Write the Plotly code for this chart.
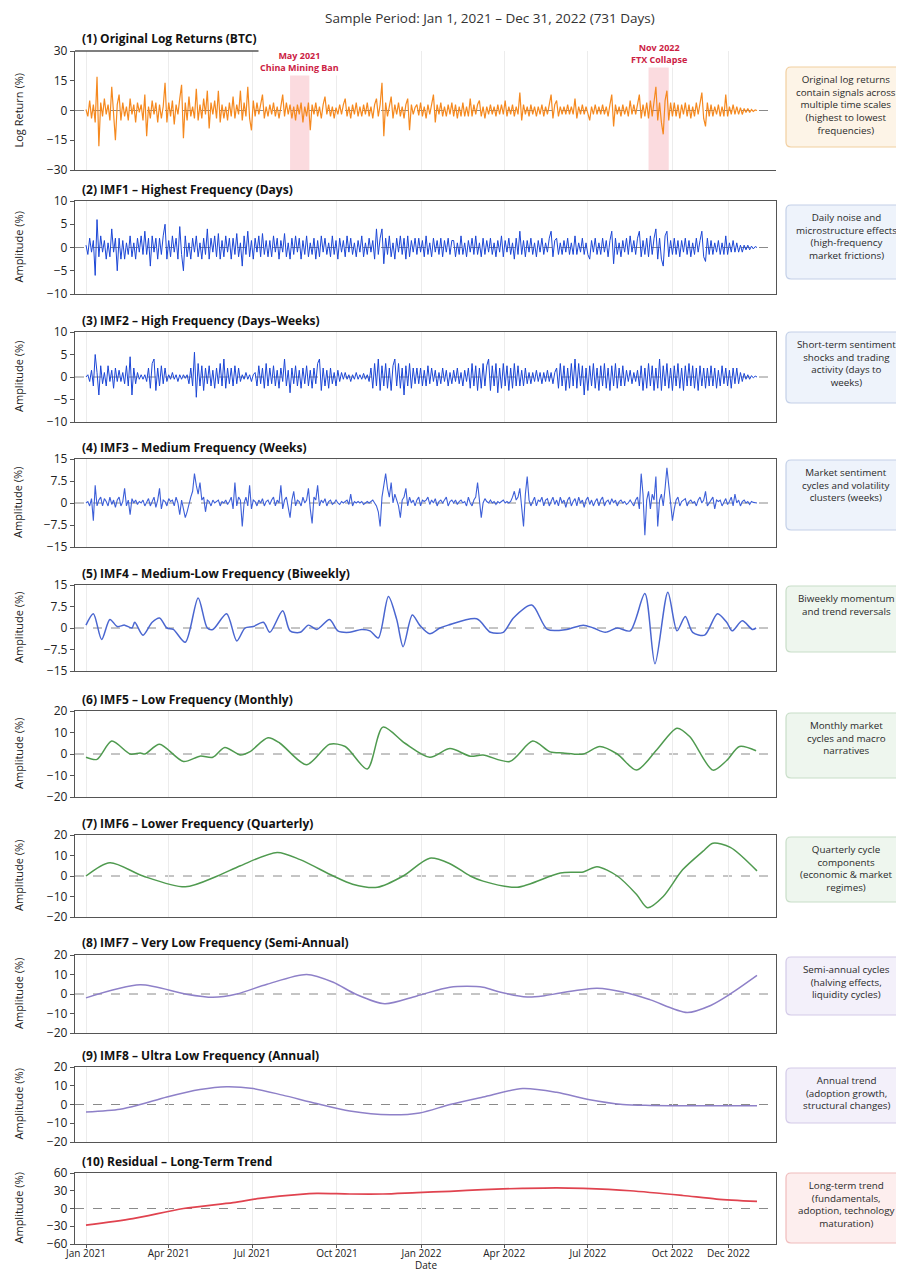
import plotly.graph_objects as go
import pandas as pd

PAGE_OFF = 8                      # browser body margin
W, H = 904 - PAGE_OFF, 1273 - PAGE_OFF
START = pd.Timestamp("2021-01-01")

# ---------------- data ----------------
# 2-day sampled high-frequency series (366 samples, Jan 1 2021 .. Jan 1 2023)
log_returns = (
    [0.5, -3, 5, -4, 3, -6, 17, -18, 4, -3, 6, -2, 3, -5, 12, -4, -15, 3, 8, -5]
    + [4, -3, 2, -5, 6, -2, 3, -6, 4, -1, 3, -5, 8, -13, 2, -4, 5, -2, 4, -6]
    + [3, -4, 2, 14, -6, 4, -3, 5, -7, 3, -2, 6, 13, -14, 4, -5, 7, -3, 2, -4]
    + [11, -5, 3, -4, 6, -2, 10, -9, 4, -2, 5, -4, 10, -6, 3, -4, 2, -5, 4, -3]
    + [7, -4, 3, -2, 10, -5, 4, -3, 12, -4, -10, 5, -3, 4, -2, 3, 8, -4, 2, -3]
    + [3, -2, 4, -3, 2, -4, 3, 8, -3, 4, -2, 3, -4, 2, -5, 3, -2, 4, -6, 2]
    + [-3, 4, -10, 3, -2, 4, -3, 2, -4, 3, 7, -2, 3, -3, 2, -4, 1.5, -2, 3, -2]
    + [3, 6, -3, 2, -4, 3, -2, 4, -3, 2, -3, 3, -2, 4, -3, 2, -4, 3, 6, -3]
    + [3, 14, -13, 4, -3, 2, 7, -4, 3, -2, 4, -3, 2, -4, 3, 6, -10, 3, -2, 1.5]
    + [3, -2.5, 4, -3, 2, -4, 3, -2, 4, 8, -6, 3, -2, 4, -3, 2, -3, 3, -2, 4]
    + [-3, 3, -4, 2, -3, 4, -3, 2, -3, 6, -3, 3, -2, 3, 5, -3, 2, -4, 2, -2]
    + [3, -2, 2, -3, 3, -2, 3, -2, 5, -3, 2, -2, 3, -3, 2, -2, 9, -5, 3, -2]
    + [2, -3, 3, -2, 2, -3, 2, -2, 3, -3, 2, -2, 3, 8, -4, 3, 5, -3, 2, -2]
    + [2, -2, 3, -2, 2, -2, 6, -4, 2, -2, 3, -2, 2, -2, -5, 2, -2, 3, -2, 2]
    + [-2, 3, -2, 2, -3, 3, 8, -8, 3, -2, 2, -3, 3, -2, 2, -3, 5, -2, 3, -2]
    + [3, 8, -4, 3, -3, 4, -4, 5, -3, 4, 12, -5, 4, -6, -12, 5, 10, -5, 4, -3]
    + [4, -3, 3, -4, 3, -2, 4, -3, 3, -4, 2, -3, 4, -2, 3, 9, -4, -8, 4, -3]
    + [3, -3, 2, -2, 3, -3, 2, -3, 8, -3, 2, -2, 3, -2, 2, -2, 1.5, -2, 1, -1]
    + [1, -1, 0.5, -0.5, 0.3, 0]
)

imf1 = (
    [0.5, -1.5, 2, -1, 1.5, -6, 6, -2, 2.5, -1, 1.5, -2.5, 1, -2, 4, -1, 2, -5, 2, -2.5]
    + [1.5, -2.5, 1, -1.5, 2.5, -2, 1, -2.5, 2, -1, 2.5, -1.5, 3.5, -1.5, 2, -4, 2.5, -1, 2, -2.5]
    + [2, -1.5, 2.5, 5, -2.5, 1.5, -2, 2.5, -1, 2, -2.5, 4.5, -1.5, -5, 2.5, -2, 1, -2.5, 2, -1]
    + [2.5, -2, 1, -2.5, 2, -1.5, 4, -2.5, 2, -1, 2.5, -2, 3, -2.5, 1.5, -2, 2.5, -1, 2, -2.5]
    + [2, -1.5, 3, -2, 1, -4, 2.5, -1.5, 3.5, -2, 1.5, -2.5, 2, -1, 2.5, -2, 3, -1.5, 1.5, -2]
    + [1.5, -2, 2.5, -1, 2, -2.5, 1.5, -1, 3, -2, 1, -2.5, 2, -1.5, 2.5, -1, 2, -2.5, 1.5, -1.5]
    + [2.5, -2, 1, -1.5, 2, -2.5, 1.5, -2, 2.5, -1, 2, -1.5, 1, -2, 2.5, -1.5, 1.5, -2.5, 2, -1]
    + [1.5, -2, 2.5, -1, 2, -1.5, 1, -2, 1.5, -1, 2.5, -2, 1, -1.5, 2, -1, 1.5, -2.5, 4, -1.5]
    + [2, 4, -3.5, 2, -1.5, 2.5, -2, 1, -2.5, 2, -1, 2.5, -1.5, 2, -2.5, 2.5, -2, 1.5, -1, 2]
    + [-1.5, 2, -1, 1.5, -2, 2.5, -1.5, 1, -2, 2, -1, 1.5, -1.5, 2, -2, 1.5, -1, 2, -1.5, 1.5]
    + [1.5, -2, 1, -1.5, 2.5, -1.5, 1, -2, 1.5, -1, 2, -1.5, 2.5, -1.5, 1, -2, 2, -1.5, 1.5, -1]
    + [2, -1.5, 1, -2, 1.5, -1, 2.5, -2, 1.5, -1, 2, -1.5, 1, -2.5, 2, -1.5, 3.5, -1.5, 1.5, -2]
    + [1.5, -1, 2, -1.5, 1, -2, 1.5, -1, 2, -1.5, 1, -1, 2, 3.5, -2, 1.5, 2, -1.5, 1, -1.5]
    + [1.5, -1, 2, -1.5, 1, -1.5, 2.5, -1.5, 1, -1, 2, -1.5, 1, -1.5, -2.5, 1.5, -1, 2, -1.5, 1]
    + [-1.5, 2, -1, 1.5, -2, 1.5, 3.5, -3.5, 2, -1.5, 1, -2, 1.5, -1, 2, -1.5, 2.5, -1, 1.5, -1.5]
    + [2, 3.5, -2, 1.5, -1.5, 2, -2, 2.5, -1.5, 2, 4, -2.5, 2, -2.5, -4, 2.5, 3.5, -2, 1.5, -1.5]
    + [2, -1.5, 1.5, -2, 1.5, -1, 2, -1.5, 1.5, -2, 1, -1.5, 2, -1, 1.5, 3.5, -2, -3, 2, -1.5]
    + [1.5, -1.5, 1, -1, 1.5, -1.5, 1, -1.5, 2.5, -1.5, 1, -1, 1.5, -1, 1, -1, 0.5, -1, 0.5, -0.5]
    + [0.5, -0.5, 0.3, -0.3, 0.2, 0]
)

imf2 = (
    [0, 0.5, -1, 1.5, -2, 5, 1, -4, 2.5, -1.5, 1, -2, 2.5, -1, 1.5, -2.5, 2, -1, 1.5, -1]
    + [1, -1.5, 2.5, -2, 4.5, -4, 2, -1.5, 1, -0.5, 0.5, -0.5, 0.5, -1, 2, -2.5, 3, 4, -3, 2]
    + [-2, 2.5, -1.5, 2, -1, 0.5, -0.5, 1, -0.5, 0.5, -1, 0.5, -0.5, 0.5, -0.3, 0.5, -1.5, 2, -2, 5.5]
    + [-4.5, 3, -2, 2.5, -3, 2, -1.5, 2.5, -2, 1.5, -2.5, 2, -1.5, 3, -2, 4, -2.5, 2, -1.5, 2]
    + [-2, 2.5, -1.5, 2, -1, 0.5, -0.5, 1, -0.5, 0.5, -1, 0.5, 1, -2, 2.5, -1.5, 2, -2.5, 3, -2]
    + [2, -1.5, 2.5, -2, 1.5, -2.5, 2, -1, 4, -2, 1.5, -3.5, 2, -1.5, 2.5, -2, 1.5, -2.5, 2, -1.5]
    + [2.5, -2, 1.5, -2.5, 2, -1.5, 3, 4, -3, 2, -2, 1.5, -2.5, 2, -1.5, 1, -2, 1.5, -1, 1]
    + [-0.5, 1, -0.5, 0.5, -1, 0.5, -0.5, 1, -0.5, 0.5, -0.5, 0.8, -0.5, 0.5, -1, 2, -2.5, 3, -2, 4]
    + [-3, 2.5, -2, 3, -2.5, 2, -3, 2.5, 4, -2, 3, -2.5, 2, -4, 2.5, -2, 3, -2.5, 2, -1.5]
    + [2, -1.5, 2, -2, 1.5, -2, 2.5, -1.5, 2, -1, 1.5, -2, 1, -1.5, 2, -1, 1.5, -2, 1, -1.5]
    + [1.5, -1, 2, -1.5, 1, -2, 1.5, -1, 2, -2.5, 3, -2, 2.5, -3, 2, -2.5, 3, -2, 2.5, 4]
    + [-3, 2.5, -2, 3, -3.5, 2, -2.5, 3, -2, 2.5, -3, 2, -2.5, 3, -2, 2.5, -2, 1.5, -2, 2]
    + [-1.5, 1, -1.5, 1, -1, 1.5, -1, 1, -1.5, 1, -1, 1.5, -1, 1, -1.5, 1, 2, -2.5, 3, -2]
    + [2.5, -3, 2, -2.5, 3, -2, 4, -2.5, 3, -2, 2.5, -4, 2, -3, 2.5, -2, 3, -2.5, 2, -3]
    + [2.5, -2, 3, -2.5, 2, -3, 2.5, -2, 3, -2.5, 2, -2, 2.5, -2, 1.5, -1, 1.5, -1.5, 1, -1]
    + [1.5, -2, 2.5, -3, 2, -2.5, 3, -2, 2.5, -3, 2, -2.5, 4, -3, 2.5, -2, 3, -2.5, 2, -3]
    + [2.5, -2, 3, -2.5, 2, -3, 2.5, -2, 3, -2, 2.5, -2.5, 2, -3, 2.5, -2, 2, -2.5, 2, -2]
    + [2.5, -2, 2, -2.5, 1.5, -2, 2.5, -1.5, 2, -2, 1.5, -2.5, 2, -1.5, 2, -1.5, 1, -1, 0.8, -0.5]
    + [0.5, -0.5, 0.3, -0.2, 0.2, 0]
)

imf3 = (
    [0, 0.5, -1, 1.5, -6, 6, -1, 1, 2, -1, 1.5, 0.5, -1, 2, -0.5, 1, -1.5, 1, 2, -1]
    + [0.5, 5, -1, 1, -4, 1.5, 0, 1, -0.5, 0.5, 0, 1, -1, 0.5, 1.5, -1, 0.5, 2, -1.5, 1]
    + [5, -2, 1, 0.5, -1, 1.5, 0.5, 1, -1, 2, 0, -4, 1, -2, -5, -3, 0, 2, 4, 10]
    + [6, 3, 7, 1, 2, -3, 1, 0.5, -1, 1, 0, 0.5, 1, -1, 0.5, 0, 1, -0.5, 0.5, 2]
    + [-2, 7, -1, 2, 1, -8, 0, 2, -1, 6, -2, 1, 0.5, -1, 1, 0, 1.5, -1, 0.5, 1]
    + [-0.5, 1, 2, -1, 1, 0, 6, -2, 1, 2, -1, -5, 1, 4, -1, 1, 0.5, -1, 2, 0]
    + [1, 5, -2, -7, 2, 1, 6, -1, 1, 0, 1.5, -1, 0.5, 1, -0.5, 0, 1, 0, -0.5, 0.5]
    + [0, 0.5, 1, -0.5, 3, -1, 0.5, 0, 0.5, 0, 0.5, -0.5, 0, 0.5, 0, 0.5, 1, 0, -1, -3]
    + [-8, 2, 6, 10, 5, 2, 7, 0, 3, 1, -1, -5, 1, 2, 5, -1, 2, 0, 1, -1]
    + [1, 2, -1, 1, 0.5, 1, 2, -0.5, 1, 0, 1.5, -1, 0.5, 1, 0, 1, 2, -1, 0.5, 1]
    + [0, 1, -0.5, 0.5, 1, 0, 0.5, -1, 2, 0, -1, 1, 2, 7, 1, -5, 0, 1.5, 0.5, 0]
    + [1, 0, 0.5, -0.5, 0.5, 0, 0.5, 1, 0, 0.5, 0, 0.5, 2, 4, 1, 2, 5, -1, -8, 3]
    + [9, 1, -1, 0.5, 2, -1, 1, 0.5, 2, -1, 1, 1.5, -1, 0.5, 2, -0.5, 1, -1, 2, 0]
    + [1, -1.5, 1, 2, -1, 0.5, 1.5, -1, 2, 0, 1, -1.5, 1, 2, -0.5, 1, -1, 0.5, 1.5, -1]
    + [1, 2, -1, 0.5, 1, -0.5, 1.5, 0, 1, -1, 0.5, 1, 0, 0.5, -0.5, 0, 1, 0, -1, 1]
    + [2, -2, 10, 3, -11, 1, 4, -2, 3, 1, 9, -8, 1, 3, -1, 5, 12, 6, 1, -6]
    + [-2, 1, 2, -1, 0.5, 1, 1.5, -1, 0.5, 1, 0, 0.5, -1, 1, 2, 0, 1, 4, -1, 0]
    + [1, 2, -2, 1, 0.5, 1, -1, 0.5, 1.5, -0.5, 0.5, 2, -1, 3, 0, 1, -1, 0.5, 1, 0]
    + [0.5, -0.5, 0.5, 0.2, 0, 0]
)

# smooth components: day offsets from Jan 1 2021 and values read at turning points
imf4_days = [0, 8, 17, 26, 34, 42, 50, 53, 62, 72, 80, 88, 95, 108, 122, 132, 138, 153, 164,
             173, 182, 193, 200, 214, 222, 233, 242, 251, 265, 274, 287, 300, 309, 318, 329,
             338, 345, 355, 363, 374, 385, 394, 425, 440, 454, 465, 485, 502, 523, 541, 552,
             565, 578, 592, 608, 619, 633, 643, 652, 660, 673, 687, 697, 703, 714, 725, 729]
imf4_vals = [1, 5, -4, 3, 0.5, 1, 0, 2, -2.5, 2, 3.5, 0, -0.5, -5, 10.5, 0, -0.5, 5, -4.5,
             0, 0.5, 2, -1.5, 6, -1, -1.5, 1, -0.5, 3, -1, -1.5, -0.5, -1, -3.5, 11,
             3, -6.5, 4.5, 1, -2, 0, 1, 3.2, -1.5, -1.5, 3.5, 8, -0.5, -0.5, 1, 0,
             -1.5, 0, -1, 12, -12.5, 12.5, -1, 4, -1.5, -2.5, 5, 2, -1, 2.5, -0.5, 0]

imf5_days = [0, 12, 28, 48, 59, 64, 80, 106, 124, 138, 151, 168, 178, 198, 211, 240, 265,
             282, 306, 323, 347, 374, 396, 418, 432, 461, 486, 505, 519, 541, 559, 578, 599,
             621, 643, 657, 682, 697, 711, 729]
imf5_vals = [-1.5, -2.5, 6, 0, 0.5, 0, 4.5, -3.5, -1, -1.5, 3, -0.5, 1, 7.5, 5, -5, 4.5,
             3.5, -7, 12.5, 5, -1.5, 2.5, -1, -0.5, -3.5, 6, 1, 0.5, 0, 3.5, 0, -7.5,
             2, 12, 8, -7.5, -3, 3.5, 1.5]

imf6_days = [0, 26, 62, 108, 143, 168, 208, 233, 269, 290, 317, 345, 374, 396, 418, 432,
             469, 516, 541, 556, 578, 599, 611, 628, 649, 671, 682, 701, 730]
imf6_vals = [0, 6.5, 0, -5.3, 0, 5, 11.5, 8, 0, -4, -5.5, 0, 8.7, 6, 0, -2.5,
             -5.5, 1.5, 2, 4.5, 0, -9, -15.5, -10, 3, 12, 16, 14, 2.5]

imf7_days = [0, 59, 108, 138, 164, 197, 240, 269, 293, 325, 360, 396, 432, 450, 480, 497,
             516, 556, 589, 614, 654, 679, 701, 730]
imf7_vals = [-2, 4.7, 0, -1.7, 0, 5, 10, 6, 0, -5, -1, 3.5, 3.5, 1, -1.5, -1,
             0.5, 3, 0.5, -3, -9.5, -6, 0, 9.5]

imf8_days = [0, 37, 59, 88, 124, 153, 182, 214, 251, 287, 331, 363, 396, 432, 475, 512,
             548, 584, 614, 649, 730]
imf8_vals = [-4, -2.5, 0, 4, 8, 9.5, 8.5, 5, 0.5, -3.5, -5.5, -4.5, 0, 4, 8.5, 6.5,
             2.5, 0, -0.5, -0.7, -0.7]

resid_days = [0, 51, 106, 160, 189, 233, 251, 287, 323, 360, 396, 432, 475, 512, 541,
              592, 649, 686, 730]
resid_vals = [-28, -17, 0, 10, 17, 24, 25.5, 24.5, 24.5, 27, 29, 32, 34, 35, 34,
              30, 22, 16, 12]

# event windows (as positioned in the picture) and axis ticks
event_labels = ["May 2021<br>China Mining Ban", "Nov 2022<br>FTX Collapse"]
event_start = ["2021-08-11", "2022-09-05"]
event_end = ["2021-09-01", "2022-09-27"]

tick_dates = ["2021-01-01", "2021-04-01", "2021-07-01", "2021-10-01", "2022-01-01",
              "2022-04-01", "2022-07-01", "2022-10-01", "2022-12-01"]
tick_text = ["Jan 2021", "Apr 2021", "Jul 2021", "Oct 2021", "Jan 2022",
             "Apr 2022", "Jul 2022", "Oct 2022", "Dec 2022"]

panel_titles = ["(1) Original Log Returns (BTC)", "(2) IMF1 – Highest Frequency (Days)",
                "(3) IMF2 – High Frequency (Days–Weeks)", "(4) IMF3 – Medium Frequency (Weeks)",
                "(5) IMF4 – Medium-Low Frequency (Biweekly)", "(6) IMF5 – Low Frequency (Monthly)",
                "(7) IMF6 – Lower Frequency (Quarterly)", "(8) IMF7 – Very Low Frequency (Semi-Annual)",
                "(9) IMF8 – Ultra Low Frequency (Annual)", "(10) Residual – Long-Term Trend"]
notes = ["Original log returns<br>contain signals across<br>multiple time scales<br>(highest to lowest<br>frequencies)",
         "Daily noise and<br>microstructure effects<br>(high-frequency<br>market frictions)",
         "Short-term sentiment<br>shocks and trading<br>activity (days to<br>weeks)",
         "Market sentiment<br>cycles and volatility<br>clusters (weeks)",
         "Biweekly momentum<br>and trend reversals",
         "Monthly market<br>cycles and macro<br>narratives",
         "Quarterly cycle<br>components<br>(economic &amp; market<br>regimes)",
         "Semi-annual cycles<br>(halving effects,<br>liquidity cycles)",
         "Annual trend<br>(adoption growth,<br>structural changes)",
         "Long-term trend<br>(fundamentals,<br>adoption, technology<br>maturation)"]

# ---------------- layout geometry (screen pixels) ----------------
panel_px = [(51, 170), (201, 294), (332, 422), (459, 547), (585, 671),
            (711, 797), (835, 917), (955, 1033), (1067, 1142), (1173, 1244)]
box_px = [(67, 147), (205, 279), (332, 403), (460, 530), (586, 652),
          (713, 778), (837, 902), (957, 1015), (1068, 1123), (1173, 1243)]
y_ranges = [30, 10, 10, 15, 15, 20, 20, 20, 20, 60]
y_ticks = [[-30, -15, 0, 15, 30], [-10, -5, 0, 5, 10], [-10, -5, 0, 5, 10],
           [-15, -7.5, 0, 7.5, 15], [-15, -7.5, 0, 7.5, 15], [-20, -10, 0, 10, 20],
           [-20, -10, 0, 10, 20], [-20, -10, 0, 10, 20], [-20, -10, 0, 10, 20],
           [-60, -30, 0, 30, 60]]
line_colors = ["#f5891f", "#1b46d6", "#1b46d6", "#3d5fd8", "#4a66d0", "#4f9a4f",
               "#4f9a4f", "#8e80c8", "#8e80c8", "#e0434f"]
line_widths = [1.2, 1.0, 1.0, 1.1, 1.5, 1.5, 1.5, 1.5, 1.5, 1.7]
box_fill = ["#fdf4e7", "#eef3fb", "#eef3fb", "#eef3fb", "#eef6ee", "#eef6ee", "#eef6ee",
            "#f3f0fa", "#f3f0fa", "#fdeeee"]
box_line = ["#f2cfa0", "#c3d0e8", "#c3d0e8", "#c3d0e8", "#c8dec8", "#c8dec8", "#c8dec8",
            "#d3cae8", "#d3cae8", "#f0bcbc"]

FONT = "Open Sans, Noto Sans, sans-serif"
X0, X1 = 75, 776


def px_x(p):
    return (p - PAGE_OFF) / W


def px_y(p):
    return 1 - (p - PAGE_OFF) / H


def day_dates(days):
    return [START + pd.Timedelta(days=d) for d in days]


grid2 = day_dates(range(0, 731, 2))
series = [
    (grid2, log_returns, "linear"),
    (grid2, imf1, "linear"),
    (grid2, imf2, "linear"),
    (grid2, imf3, "linear"),
    (day_dates(imf4_days), imf4_vals, "spline"),
    (day_dates(imf5_days), imf5_vals, "spline"),
    (day_dates(imf6_days), imf6_vals, "spline"),
    (day_dates(imf7_days), imf7_vals, "spline"),
    (day_dates(imf8_days), imf8_vals, "spline"),
    (day_dates(resid_days), resid_vals, "spline"),
]

# x range such that Jan 1 2021 and Jan 1 2023 fall where the data starts/ends in the picture
px_per_day = (757 - 86) / 730
x_lo = START + pd.Timedelta(days=(X0 - 86) / px_per_day)
x_hi = START + pd.Timedelta(days=(X1 - 86) / px_per_day)

fig = go.Figure()
layout = dict(
    width=W, height=H, margin=dict(l=0, r=0, t=0, b=0, autoexpand=False),
    paper_bgcolor="white", plot_bgcolor="white", showlegend=False,
    font=dict(family=FONT, color="#222"),
)
shapes = []
annotations = []

for i in range(10):
    n = i + 1
    xa = "x" if n == 1 else f"x{n}"
    ya = "y" if n == 1 else f"y{n}"
    xs, ys, shape = series[i]
    fig.add_trace(go.Scatter(
        x=xs, y=ys, mode="lines", xaxis=xa, yaxis=ya,
        line=dict(color=line_colors[i], width=line_widths[i], shape=shape,
                  smoothing=0.8 if shape == "spline" else None),
        hoverinfo="skip",
    ))
    top, bot = panel_px[i]
    boxed = i > 0
    layout["xaxis" if n == 1 else f"xaxis{n}"] = dict(
        domain=[px_x(X0), px_x(X1)], anchor=ya, range=[x_lo, x_hi], automargin=False,
        matches=None if n == 1 else "x",
        tickvals=tick_dates, ticktext=tick_text, showticklabels=(n == 10),
        ticks="outside" if n == 10 else "", ticklen=3, tickcolor="#555",
        ticklabelstandoff=-3,
        tickfont=dict(size=10, color="#222"),
        showgrid=True, gridcolor="#ececec", gridwidth=1, zeroline=False,
        showline=True, linecolor="#555", linewidth=1.3, mirror=boxed,
    )
    r = y_ranges[i]
    layout["yaxis" if n == 1 else f"yaxis{n}"] = dict(
        domain=[px_y(bot), px_y(top)], anchor=xa, range=[-r, r], automargin=False,
        tickvals=y_ticks[i], ticks="outside", ticklen=4, tickcolor="#555",
        tickfont=dict(size=12, color="#222"), showgrid=False, zeroline=False,
        showline=True, linecolor="#555", linewidth=1.3, mirror=boxed,
    )
    # dashed zero reference line
    shapes.append(dict(type="line", xref=f"{xa} domain", yref=ya, x0=0, x1=1, y0=0, y1=0,
                       line=dict(color="#8a8a8a", width=1, dash="dash"), layer="below"))
    # panel title
    annotations.append(dict(text=f"<b>{panel_titles[i]}</b>", xref="paper", yref="paper",
                            x=px_x(80), y=px_y(top - 12), xanchor="left", yanchor="middle",
                            showarrow=False, font=dict(size=12, color="#111")))
    # y-axis title
    annotations.append(dict(text="Log Return (%)" if i == 0 else "Amplitude (%)",
                            xref="paper", yref="paper", x=px_x(18), y=px_y((top + bot) / 2),
                            xanchor="center", yanchor="middle", textangle=-90,
                            showarrow=False, font=dict(size=11, color="#222")))
    # right-hand description box (rounded rectangle) + text
    bt, bb = box_px[i]
    bx0, bx1 = px_x(786), px_x(915)
    yt, yb = px_y(bt), px_y(bb)
    rx, ry = 5 / W, 5 / H
    path = (f"M {bx0+rx},{yt} L {bx1-rx},{yt} Q {bx1},{yt} {bx1},{yt-ry} "
            f"L {bx1},{yb+ry} Q {bx1},{yb} {bx1-rx},{yb} L {bx0+rx},{yb} "
            f"Q {bx0},{yb} {bx0},{yb+ry} L {bx0},{yt-ry} Q {bx0},{yt} {bx0+rx},{yt} Z")
    shapes.append(dict(type="path", xref="paper", yref="paper", path=path,
                       fillcolor=box_fill[i], line=dict(color=box_line[i], width=1.2)))
    annotations.append(dict(text=notes[i], xref="paper", yref="paper", x=px_x(846),
                            y=px_y(bt + 4), xanchor="center", yanchor="top", align="center",
                            showarrow=False, font=dict(size=9.8, color="#2a2a2a")))

# x-axis title (sits below the tick labels at the very bottom)
annotations.append(dict(text="Date", xref="paper", yref="paper", x=px_x(426), y=0,
                        xanchor="center", yanchor="bottom", showarrow=False, borderpad=0,
                        font=dict(size=10, color="#222")))

# event shading and labels in panel 1
for lab, s, e in zip(event_labels, event_start, event_end):
    shapes.append(dict(type="rect", xref="x", yref="y", x0=s, x1=e, y0=-30, y1=30,
                       fillcolor="rgba(235,90,110,0.22)", line=dict(width=0), layer="below"))
    mid = pd.Timestamp(s) + (pd.Timestamp(e) - pd.Timestamp(s)) / 2
    annotations.append(dict(text=f"<b>{lab}</b>", xref="x", yref="paper", x=mid,
                            y=px_y(39 if "FTX" in lab else 47), xanchor="center", yanchor="top",
                            showarrow=False, bgcolor="white", borderpad=1,
                            font=dict(size=9, color="#cc2244")))

# short top line over panel 1 (as in the picture)
shapes.append(dict(type="line", xref="paper", yref="paper", x0=px_x(75), x1=px_x(268),
                   y0=px_y(51), y1=px_y(51), line=dict(color="#555", width=1.3)))

# suptitle
annotations.append(dict(text="Sample Period: Jan 1, 2021 – Dec 31, 2022 (731 Days)",
                        xref="paper", yref="paper", x=px_x(490), y=1,
                        xanchor="center", yanchor="top", showarrow=False, borderpad=0,
                        font=dict(size=13.5, color="#333")))

layout["shapes"] = shapes
layout["annotations"] = annotations
fig.update_layout(**layout)
fig.write_html("out.html")
